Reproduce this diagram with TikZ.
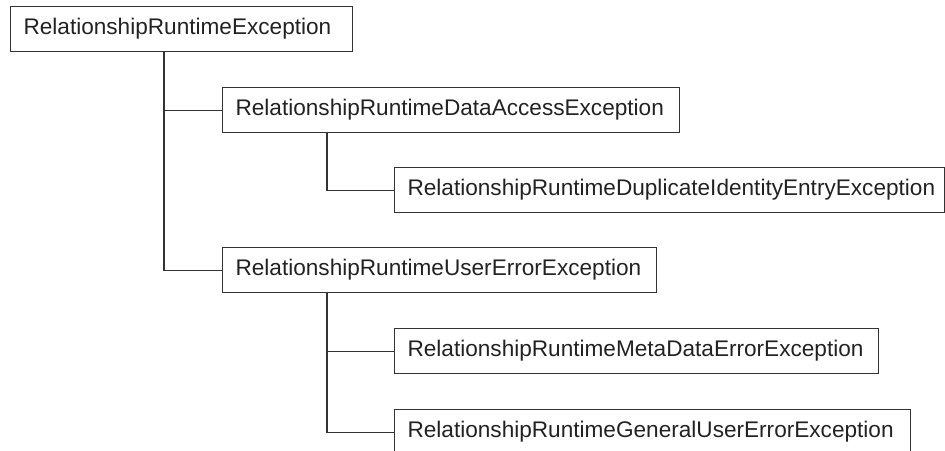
\documentclass[tikz,border=0pt]{standalone}
\usepackage{fontspec}
\setmainfont{Liberation Sans}
\usepackage{tikz}
\usetikzlibrary{positioning,calc}

\definecolor{inkline}{HTML}{333333}
\definecolor{inktext}{HTML}{222222}

\begin{document}
\begin{tikzpicture}[
    x=0.5pt, y=-0.5pt,
    font=\fontsize{11.3}{13}\selectfont,
    exc/.style={rectangle, draw=inkline, text=inktext, line width=0.55pt, anchor=north west, align=left, inner xsep=6.5pt, inner ysep=0pt, minimum height=22.5pt, text width=#1},
    link/.style={draw=inkline, line width=0.55pt}
]
\clip (0, 0) rectangle (945, 450);

% Root of the hierarchy
\node[exc=158pt] (root) at (10, 6) {RelationshipRuntimeException};

% First level
\node[exc=215.5pt] (dataacc) at (222, 87) {RelationshipRuntimeDataAccessException};
\node[exc=204pt] (usererr) at (222, 247) {RelationshipRuntimeUserErrorException};

% Second level
\node[exc=262pt] (dup) at (394, 167) {RelationshipRuntimeDuplicateIdentityEntryException};
\node[exc=229pt] (meta) at (394, 328) {RelationshipRuntimeMetaDataErrorException};
\node[exc=245pt] (general) at (394, 409) {RelationshipRuntimeGeneralUserErrorException};

% Trunk positions
\coordinate (trunkA) at (164, 0);
\coordinate (trunkB) at (327, 0);

% Connections: root
\draw[link] (root.south -| trunkA) |- (dataacc.west);
\draw[link] (root.south -| trunkA) |- (usererr.west);

% Connections: data access
\draw[link] (dataacc.south -| trunkB) |- (dup.west);

% Connections: user error
\draw[link] (usererr.south -| trunkB) |- (meta.west);
\draw[link] (usererr.south -| trunkB) |- (general.west);

\end{tikzpicture}
\end{document}
